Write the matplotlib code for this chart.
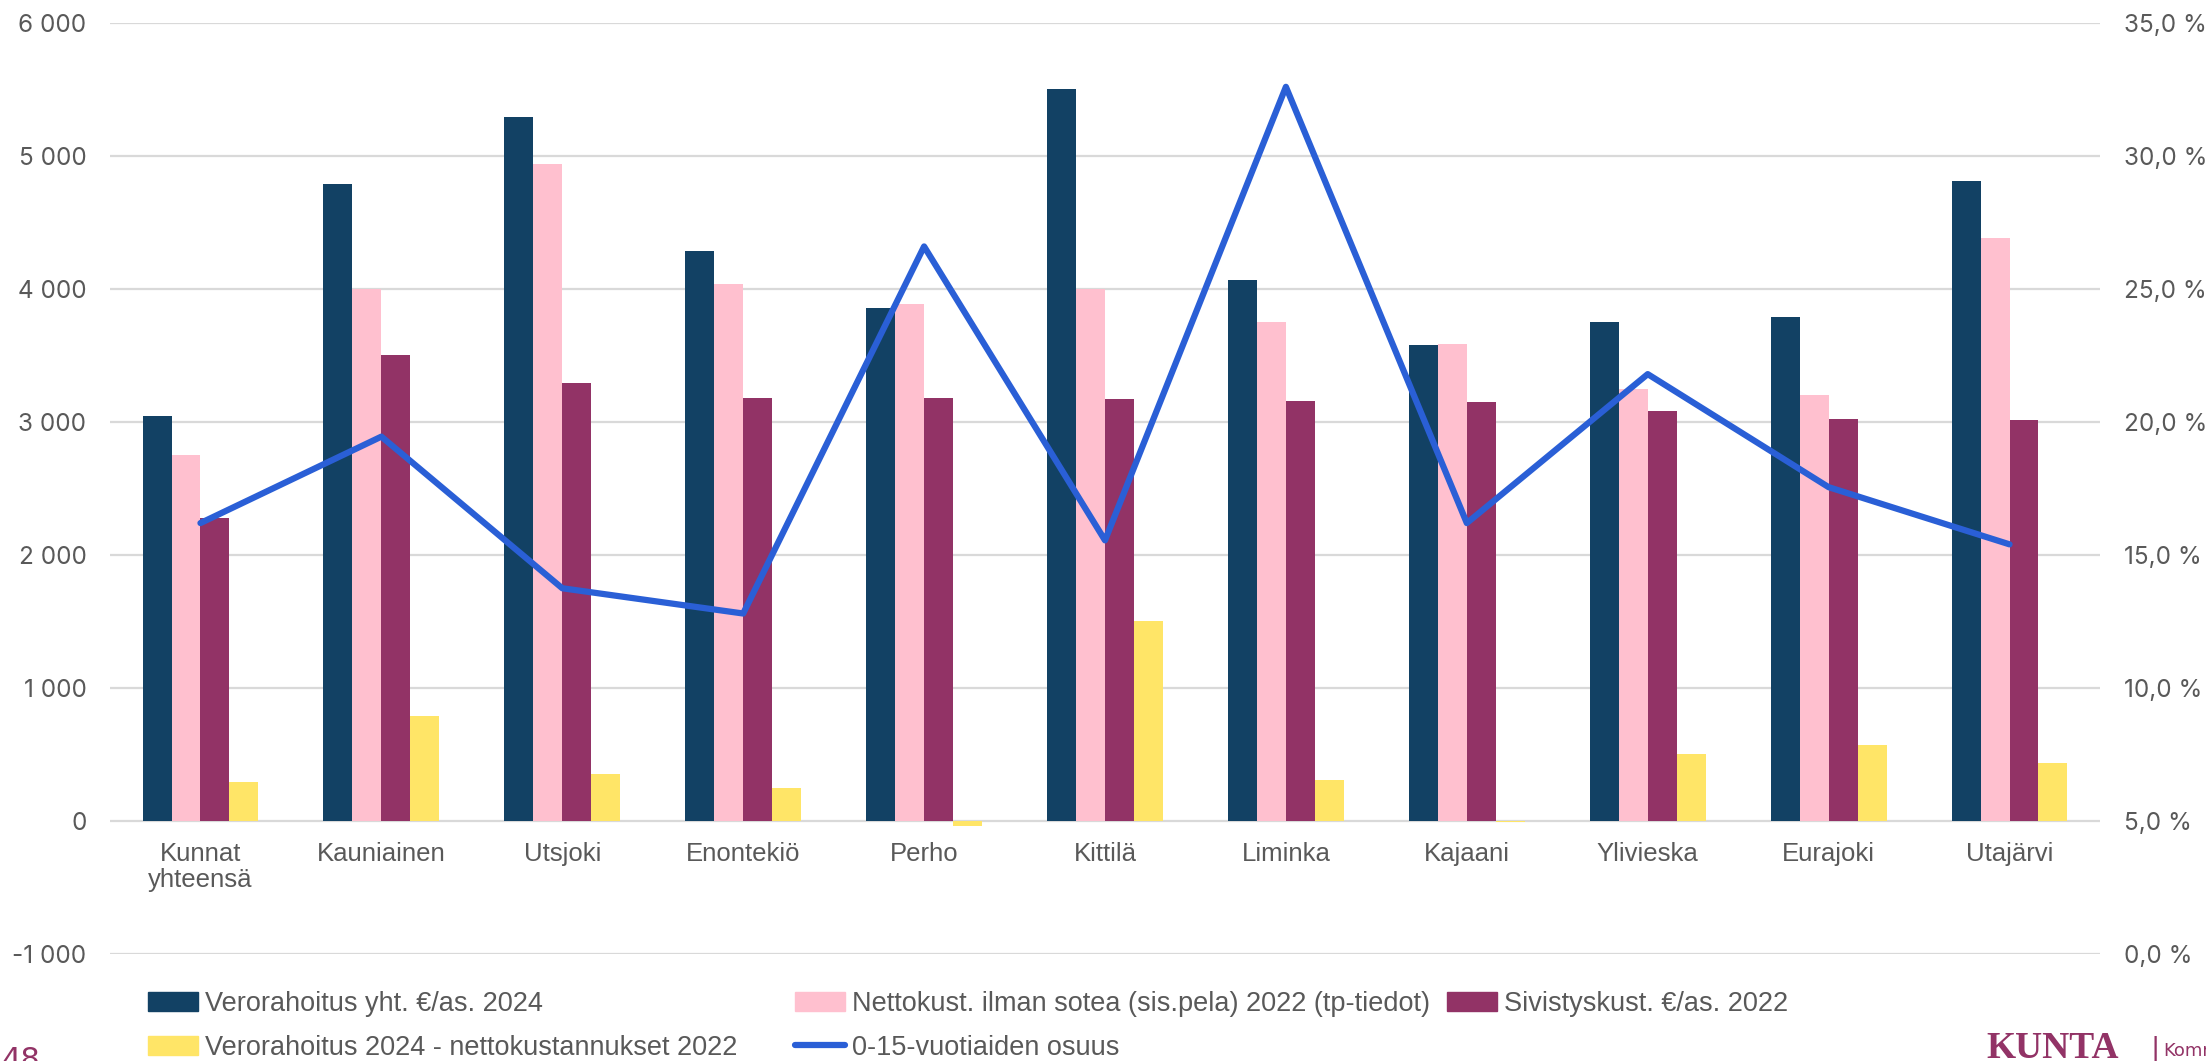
import matplotlib.pyplot as plt
from matplotlib.ticker import FuncFormatter
from matplotlib.lines import Line2D
from matplotlib.patches import Patch

# data
kunnat = ["Kunnat\nyhteensä", "Kauniainen", "Utsjoki", "Enontekiö", "Perho", "Kittilä",
          "Liminka", "Kajaani", "Ylivieska", "Eurajoki", "Utajärvi"]
verorahoitus = [3045, 4790, 5290, 4285, 3860, 5505, 4070, 3580, 3750, 3790, 4815]
nettokust = [2750, 4000, 4940, 4040, 3890, 4000, 3750, 3590, 3250, 3205, 4380]
sivistys = [2280, 3505, 3295, 3180, 3180, 3170, 3160, 3150, 3085, 3020, 3015]
erotus = [290, 790, 350, 245, -35, 1505, 305, -10, 505, 575, 435]
osuus_0_15 = [16.2, 19.45, 13.75, 12.8, 26.6, 15.55, 32.6, 16.2, 21.8, 17.55, 15.4]

legend_labels = ["Verorahoitus yht. €/as. 2024",
                 "Nettokust. ilman sotea (sis.pela) 2022 (tp-tiedot)",
                 "Sivistyskust. €/as. 2022",
                 "Verorahoitus 2024 - nettokustannukset 2022",
                 "0-15-vuotiaiden osuus"]

c_navy = "#124164"
c_pink = "#FFC0CF"
c_purple = "#923366"
c_yellow = "#FFE567"
c_blue = "#2A5FD6"
c_text = "#595959"
c_grid = "#D9D9D9"

W, H = 2206, 1061
fig = plt.figure(figsize=(W / 100, H / 100), dpi=100)
ax = fig.add_axes([110 / W, 1 - 954 / H, 1990 / W, 931 / H])

x = list(range(len(kunnat)))
bw = 0.16
series = [(verorahoitus, c_navy), (nettokust, c_pink), (sivistys, c_purple), (erotus, c_yellow)]
for k, (vals, col) in enumerate(series):
    ax.bar([i + (k - 1.5) * bw for i in x], vals, width=bw, color=col, linewidth=0, zorder=2)

ax.set_xlim(-0.5, len(kunnat) - 0.5)
ax.set_ylim(-1000, 6000)
ax.set_yticks(range(-1000, 6001, 1000))
ax.yaxis.set_major_formatter(FuncFormatter(lambda v, p: f"{int(v):,}".replace(",", " ")))
ax.yaxis.grid(True, color=c_grid, linewidth=1.6)
ax.set_axisbelow(True)
ax.set_xticks([])
for s in ax.spines.values():
    s.set_visible(False)
ax.tick_params(axis="y", length=0, pad=17, labelsize=17.5, labelcolor=c_text)
for t in ax.get_yticklabels():
    t.set_fontfamily(["Inter", "DejaVu Sans"])

for i, name in enumerate(kunnat):
    ax.text(i, -155, name, ha="center", va="top", fontsize=18.5, color=c_text,
            family=["Liberation Sans", "DejaVu Sans"], linespacing=1.15)

ax2 = ax.twinx()
ax2.plot(x, osuus_0_15, color=c_blue, linewidth=4.5, solid_capstyle="round",
         solid_joinstyle="round", zorder=3)
ax2.set_ylim(0, 35)
ax2.set_yticks(range(0, 36, 5))
ax2.yaxis.set_major_formatter(FuncFormatter(lambda v, p: f"{v:.1f}".replace(".", ",") + " %"))
for s in ax2.spines.values():
    s.set_visible(False)
ax2.tick_params(axis="y", length=0, pad=17, labelsize=17.5, labelcolor=c_text)
for t in ax2.get_yticklabels():
    t.set_fontfamily(["Inter", "DejaVu Sans"])

# legend: three columns placed like the original
handles = [Patch(color=c_navy), Patch(color=c_pink), Patch(color=c_purple),
           Patch(color=c_yellow), Line2D([], [], color=c_blue, linewidth=4.5, solid_capstyle="round")]
columns = [([0, 3], 148), ([1, 4], 795), ([2], 1447)]
for idx, xpix in columns:
    leg = fig.legend([handles[j] for j in idx], [legend_labels[j] for j in idx],
                     loc="upper left", bbox_to_anchor=(xpix / W, 1 - 991 / H),
                     frameon=False, borderpad=0, borderaxespad=0,
                     handlelength=1.85, handleheight=0.7, handletextpad=0.25,
                     labelspacing=0.65,
                     prop={"family": ["Liberation Sans", "DejaVu Sans"], "size": 19.5})
    for t in leg.get_texts():
        t.set_color(c_text)

# page number and logo at the bottom edge
fig.text(2 / W, 1 - 1046 / H, "48", fontsize=22, color=c_purple, va="top", ha="left")
fig.text(1986 / W, 1 - 1058 / H, "KUNTA", fontsize=27, color=c_purple, fontweight="bold",
         family=["Liberation Serif", "DejaVu Serif"], va="baseline", ha="left")
fig.text(2150 / W, 1 - 1058 / H, "|", fontsize=20, color=c_purple, va="baseline", ha="left")
fig.text(2163 / W, 1 - 1056 / H, "Komm", fontsize=13, color=c_purple, va="baseline", ha="left")

fig.savefig("out.png", dpi=100)
